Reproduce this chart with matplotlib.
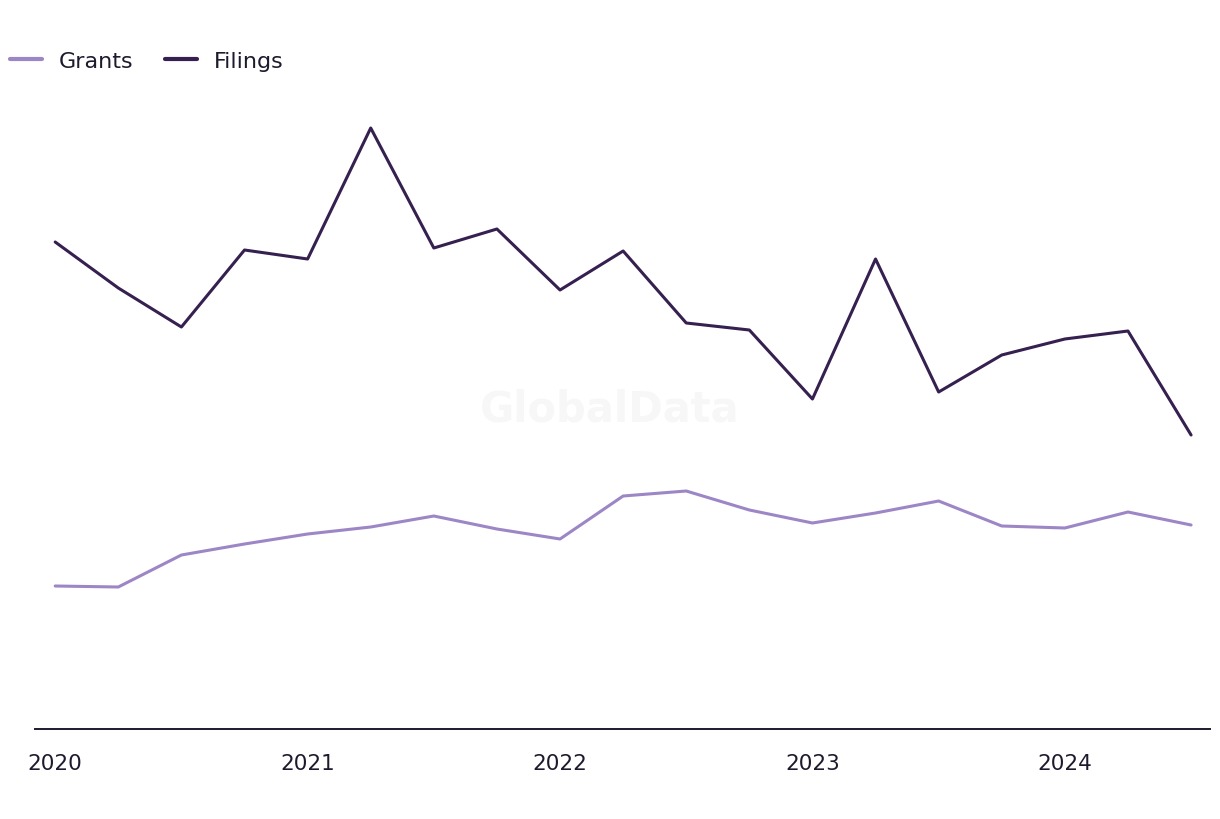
import matplotlib
matplotlib.use("Agg")
import matplotlib.pyplot as plt
from matplotlib.lines import Line2D

quarters = ["Q1 2020", "Q2 2020", "Q3 2020", "Q4 2020",
            "Q1 2021", "Q2 2021", "Q3 2021", "Q4 2021",
            "Q1 2022", "Q2 2022", "Q3 2022", "Q4 2022",
            "Q1 2023", "Q2 2023", "Q3 2023", "Q4 2023",
            "Q1 2024", "Q2 2024", "Q3 2024"]
filings = [487, 441, 402, 479, 470, 601, 481, 500, 439, 478,
           406, 399, 330, 470, 337, 374, 390, 398, 294]
grants = [143, 142, 174, 185, 195, 202, 213, 200, 190, 233,
          238, 219, 206, 216, 228, 203, 201, 217, 204]
year_labels = ["2020", "2021", "2022", "2023", "2024"]

c_grants = "#9d86c6"
c_filings = "#35204f"
c_text = "#1c1b2e"

fig = plt.figure(figsize=(12.2, 8.2), dpi=100)
ax = fig.add_axes([35 / 1220, 90 / 820, 1175 / 1220, 640 / 820])

x = list(range(len(quarters)))
ax.plot(x, grants, color=c_grants, lw=2.2, solid_capstyle="round", label="Grants")
ax.plot(x, filings, color=c_filings, lw=2.2, solid_capstyle="round", label="Filings")

ax.set_xlim(-0.32, len(quarters) - 1 + 0.3)
ax.set_ylim(0, 640)
ax.set_yticks([])
ax.set_xticks(x[::4])
ax.set_xticklabels(year_labels, fontsize=15.5, color=c_text)
ax.tick_params(axis="x", length=0, pad=17)
for s in ["top", "right", "left"]:
    ax.spines[s].set_visible(False)
ax.spines["bottom"].set_color(c_text)
ax.spines["bottom"].set_linewidth(1.4)

# watermark
fig.text(610 / 1220, 1 - 410 / 820, "GlobalData", fontsize=30, fontweight="bold",
         color="#f7f7f7", ha="center", va="center", zorder=0)

handles = [Line2D([], [], color=c_grants, lw=3, solid_capstyle="round"),
           Line2D([], [], color=c_filings, lw=3, solid_capstyle="round")]
fig.legend(handles, ["Grants", "Filings"], loc="center left",
           bbox_to_anchor=(10 / 1220, 1 - 62 / 820), ncol=2, frameon=False,
           fontsize=16, labelcolor=c_text, handlelength=1.45, handletextpad=0.75,
           columnspacing=1.4, borderaxespad=0, borderpad=0)

fig.savefig("out.png", dpi=100)
